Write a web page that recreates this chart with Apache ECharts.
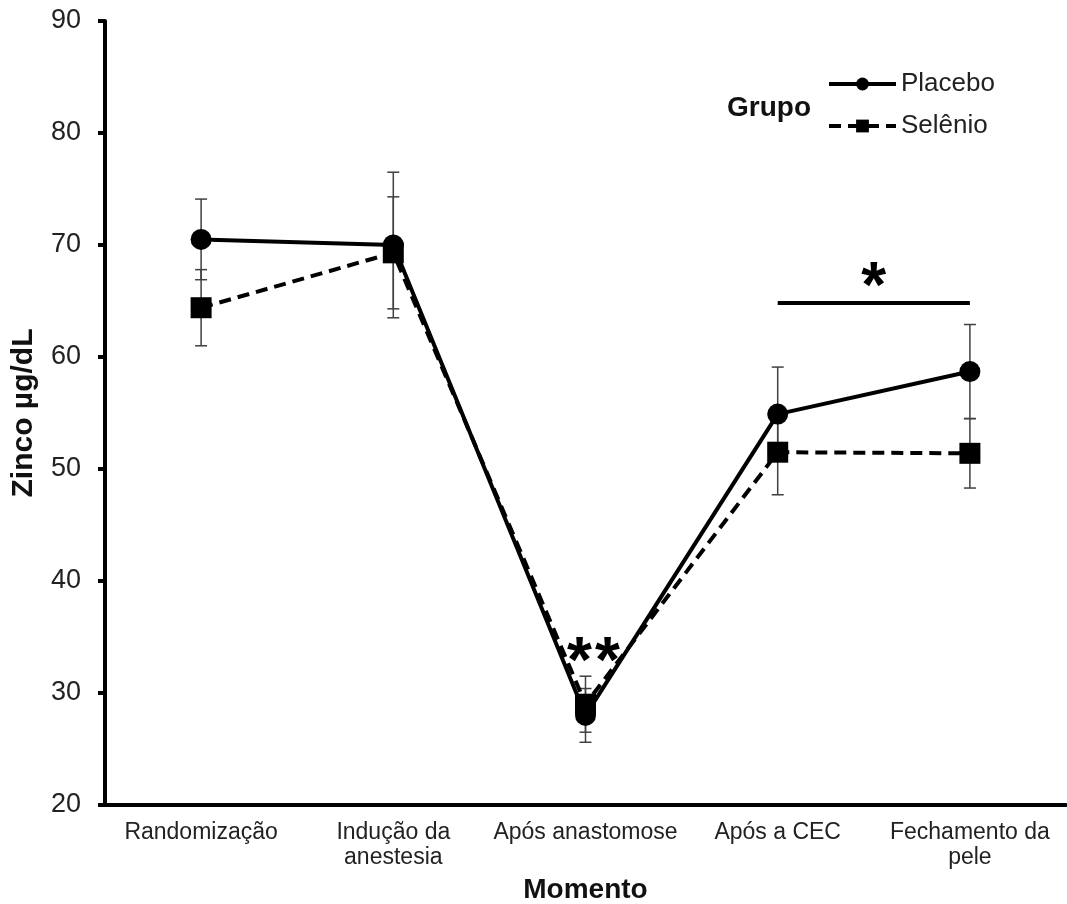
<!DOCTYPE html>
<html>
<head>
<meta charset="utf-8">
<script src="https://cdn.jsdelivr.net/npm/echarts@6/dist/echarts.min.js"></script>
<style>
  html, body { margin: 0; background: #fff; }
  #chart { width: 1067px; height: 904px; }
</style>
</head>
<body>
<div id="chart"></div>
<script>
// momentos de coleta
const categories = ['Randomização', 'Indução da\nanestesia', 'Após anastomose', 'Após a CEC', 'Fechamento da\npele']
// médias e erros (µg/dL)
const placebo = [70.5, 70.0, 28.0, 54.9, 58.7]
const placeboErr = [3.6, 6.5, 2.4, 4.2, 4.2]
const selenio = [64.4, 69.3, 29.0, 51.5, 51.4]
const selenioErr = [3.4, 5.0, 2.5, 3.8, 3.1]
// eixo y
const yMin = 20
const yMax = 90
const yStep = 10
// marcas de significância
const sigBar = { from: 3, to: 4, level: 64.8, text: '*' }
const sigPoint = { index: 2, level: 33.6, text: '*' }

const font = 'Liberation Sans, Arial, sans-serif'

// barras de erro desenhadas pela escala do gráfico
function errorBars (values, errs) {
  return {
    type: 'custom',
    silent: true,
    z: 1,
    data: values.map((v, i) => [i, v, errs[i]]),
    renderItem (params, api) {
      const i = api.value(0)
      const top = api.coord([i, api.value(1) + api.value(2)])
      const bot = api.coord([i, api.value(1) - api.value(2)])
      const w = 6
      const style = { stroke: '#404040', lineWidth: 1.5 }
      return {
        type: 'group',
        children: [
          { type: 'line', shape: { x1: top[0], y1: top[1], x2: bot[0], y2: bot[1] }, style },
          { type: 'line', shape: { x1: top[0] - w, y1: top[1], x2: top[0] + w, y2: top[1] }, style },
          { type: 'line', shape: { x1: bot[0] - w, y1: bot[1], x2: bot[0] + w, y2: bot[1] }, style }
        ]
      }
    }
  }
}

let chart = echarts.init(document.getElementById('chart'))
let option = {
  backgroundColor: '#fff',
  animation: false,
  textStyle: { fontFamily: font },
  grid: { left: 105, right: 1, top: 21, bottom: 99, containLabel: false, outerBoundsMode: 'none' },
  legend: {
    data: ['Placebo', 'Selênio'],
    orient: 'vertical',
    left: 822,
    top: 65,
    itemWidth: 67,
    itemHeight: 16,
    itemGap: 14,
    lineStyle: { width: 4 },
    textStyle: { fontSize: 26, color: '#222', lineHeight: 28, fontFamily: font }
  },
  graphic: [
    {
      type: 'text',
      left: 727,
      top: 94,
      style: { text: 'Grupo', font: 'bold 28px ' + font, fill: '#111' }
    }
  ],
  xAxis: {
    type: 'category',
    data: categories,
    name: 'Momento',
    nameLocation: 'middle',
    nameGap: 71,
    nameTextStyle: { fontSize: 28, fontWeight: 'bold', color: '#111' },
    axisLine: { lineStyle: { color: '#000', width: 4 } },
    axisTick: { lineStyle: { color: '#000', width: 4 }, length: 5 },
    axisLabel: { interval: 0, fontSize: 23, color: '#222', lineHeight: 25, margin: 15 }
  },
  yAxis: {
    type: 'value',
    min: yMin,
    max: yMax,
    interval: yStep,
    name: 'Zinco µg/dL',
    nameLocation: 'middle',
    nameGap: 66,
    nameTextStyle: { fontSize: 30, fontWeight: 'bold', color: '#111' },
    splitLine: { show: false },
    axisLine: { show: true, lineStyle: { color: '#000', width: 4 } },
    axisTick: { show: true, lineStyle: { color: '#000', width: 4 }, length: 7 },
    axisLabel: { fontSize: 27, color: '#222', margin: 24 }
  },
  series: [
    errorBars(placebo, placeboErr),
    errorBars(selenio, selenioErr),
    {
      name: 'Selênio',
      type: 'line',
      data: selenio,
      symbol: 'rect',
      symbolSize: 21,
      z: 3,
      itemStyle: { color: '#000' },
      lineStyle: { color: '#000', width: 4, type: [12, 7] },
      markPoint: {
        symbol: 'circle',
        symbolSize: 0,
        silent: true,
        label: { show: true, fontSize: 64, fontWeight: 'bold', color: '#000' },
        data: [
          { coord: [sigPoint.index, sigPoint.level], value: sigPoint.text, label: { offset: [-6, 12], formatter: sigPoint.text } },
          { coord: [sigPoint.index, sigPoint.level], value: sigPoint.text, label: { offset: [22, 12], formatter: sigPoint.text } }
        ]
      }
    },
    {
      name: 'Placebo',
      type: 'line',
      data: placebo,
      symbol: 'circle',
      symbolSize: 21,
      z: 4,
      itemStyle: { color: '#000' },
      lineStyle: { color: '#000', width: 4 },
      markLine: {
        symbol: 'none',
        silent: true,
        lineStyle: { color: '#000', width: 4, type: 'solid' },
        label: { show: true, position: 'middle', formatter: sigBar.text, fontSize: 64, fontWeight: 'bold', color: '#000', distance: -18 },
        data: [[{ coord: [sigBar.from, sigBar.level] }, { coord: [sigBar.to, sigBar.level] }]]
      }
    }
  ]
}
chart.setOption(option)
</script>
</body>
</html>
